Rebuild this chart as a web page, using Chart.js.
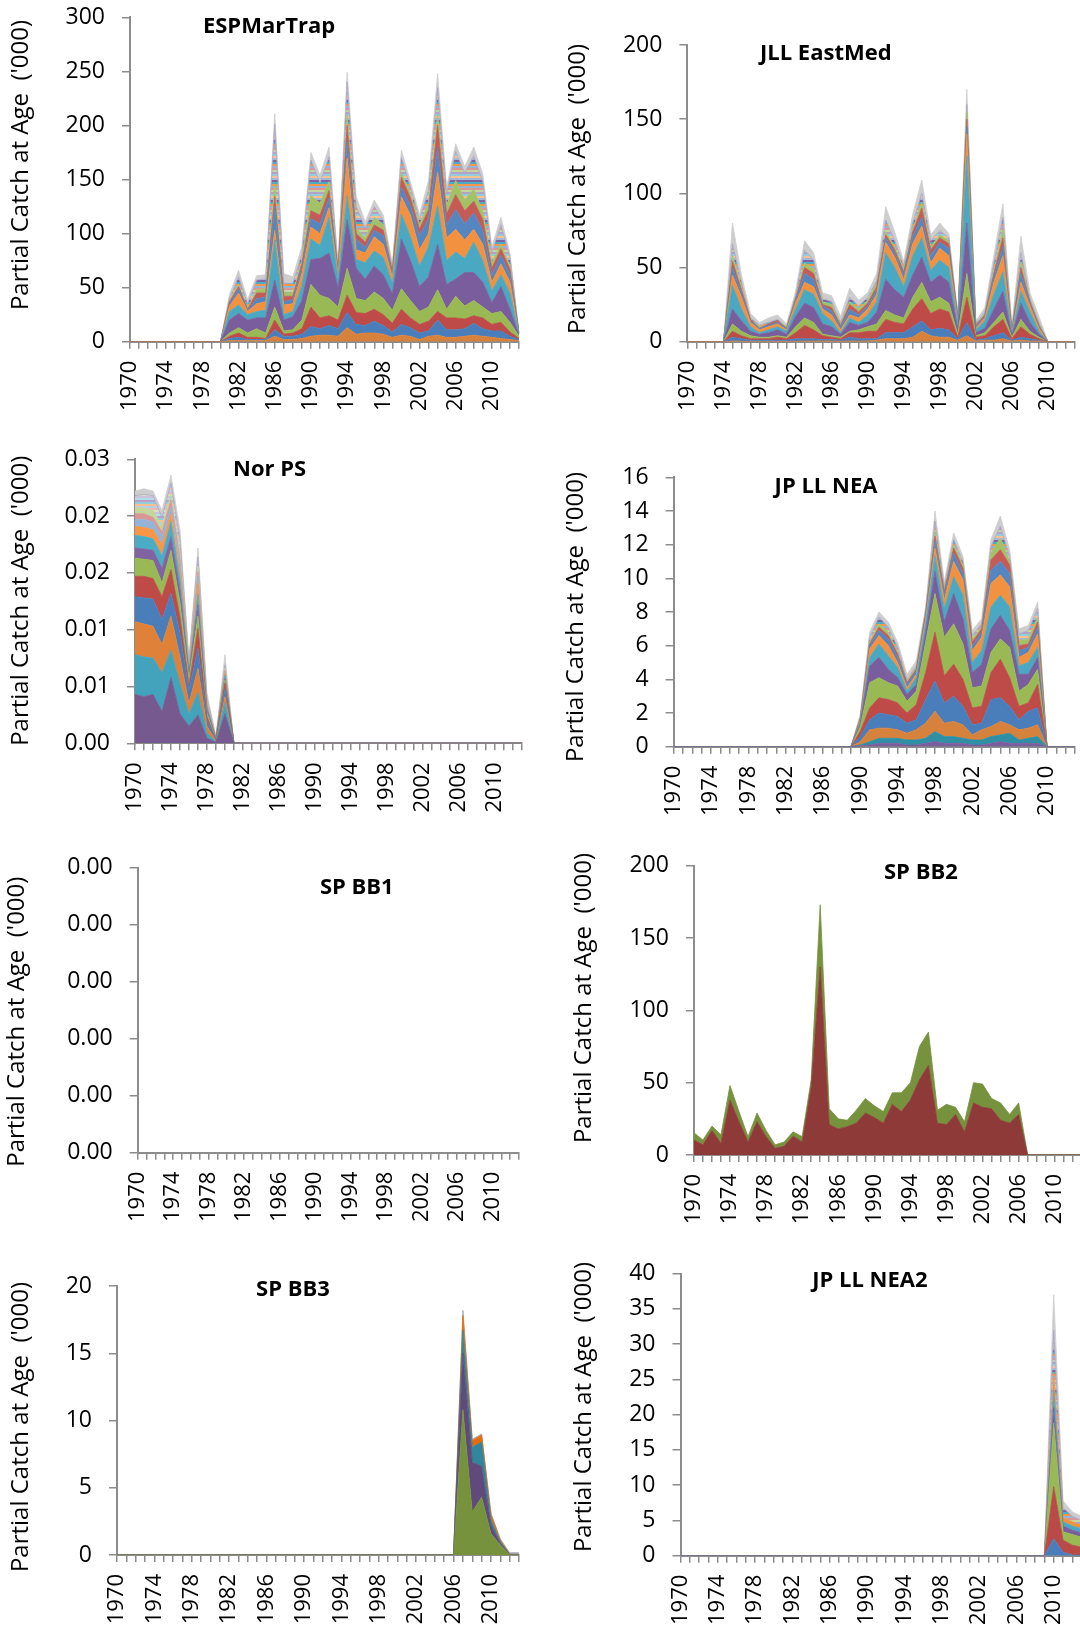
<!DOCTYPE html>
<html>
<head>
<meta charset="utf-8">
<title>Partial catch at age by fleet</title>
<script src="https://cdn.jsdelivr.net/npm/chart.js@4.4.1/dist/chart.umd.min.js"></script>
<style>
  html, body { margin: 0; padding: 0; background: #fff; }
  body { width: 1080px; height: 1629px; position: relative; overflow: hidden; }
  canvas { position: absolute; }
</style>
</head>
<body>
<canvas id="espMarTrap"></canvas>
<canvas id="jllEastMed"></canvas>
<canvas id="norPs"></canvas>
<canvas id="jpLlNea"></canvas>
<canvas id="spBb1"></canvas>
<canvas id="spBb2"></canvas>
<canvas id="spBb3"></canvas>
<canvas id="jpLlNea2"></canvas>
<script>
const years = ['1970','1971','1972','1973','1974','1975','1976','1977','1978','1979',
  '1980','1981','1982','1983','1984','1985','1986','1987','1988','1989',
  '1990','1991','1992','1993','1994','1995','1996','1997','1998','1999',
  '2000','2001','2002','2003','2004','2005','2006','2007','2008','2009',
  '2010','2011','2012','2013'];
const shownYears = ['1970','1974','1978','1982','1986','1990','1994','1998','2002','2006','2010'];
const yTitle = "Partial Catch at Age  ('000)";

// the many thin older-age bands are drawn as one striped band
function stripes(cols) {
  const c = document.createElement('canvas');
  c.width = 4;
  c.height = cols.length * 2;
  const g = c.getContext('2d');
  cols.forEach((col, i) => { g.fillStyle = col; g.fillRect(0, i * 2, 4, 2); });
  return g.createPattern(c, 'repeat');
}
const olderAges = stripes(['#8064A2','#4BACC6','#F79646','#95B3D7','#D99694','#C3D69B','#B3A2C7','#93CDDD','#FAC090','#A5B8D8']);
const olderAgesPale = stripes(['#B3A2C7','#93CDDD','#FAC090','#B9CDE5','#E6B9B8','#D7E4BD','#CCC1DA','#B7DEE8']);

// each row: year, then the top of every stacked age band (cumulative), last band is the grey shadow
// ESPMarTrap bands: orange, blue, red, green, purple, teal, orange, blue, red, green, older ages, shadow
const espRows = [
  [1980, 0,0,0,0,0,0,0,0,0,0,0,0],
  [1981, 1,3,5,8,20,28,33,35,37,38,40,44],
  [1982, 1,4,8,13,26,34,45,49,51,53,60,66],
  [1983, 1,2,4,8,20,25,28,29,30,31,35,39],
  [1984, 1,2,4,12,22,28,35,40,45,48,57,61],
  [1985, 1,2,3,8,22,29,37,41,45,49,58,62],
  [1986, 5,11,20,32,57,94,103,125,134,146,201,211],
  [1987, 2,5,7,10,20,25,34,37,42,45,54,63],
  [1988, 2,5,8,11,23,28,35,39,42,45,54,60],
  [1989, 3,7,12,20,38,52,63,68,72,75,81,88],
  [1990, 5,14,32,53,76,95,106,114,121,135,168,175],
  [1991, 6,12,22,43,77,89,100,109,117,128,147,154],
  [1992, 6,15,24,40,82,115,124,133,140,148,171,180],
  [1993, 5,12,20,32,50,58,63,65,66,67,68,72],
  [1994, 13,27,43,68,113,135,170,185,200,210,240,249],
  [1995, 7,16,27,40,68,76,85,95,100,105,125,134],
  [1996, 8,15,26,38,58,73,82,87,92,96,105,111],
  [1997, 8,19,30,46,70,84,97,103,108,115,125,131],
  [1998, 7,15,25,40,62,78,90,98,103,108,112,117],
  [1999, 4,9,17,29,44,54,60,63,65,66,68,72],
  [2000, 6,16,30,49,95,118,134,143,152,156,170,177],
  [2001, 5,13,22,38,75,97,117,126,133,137,143,148],
  [2002, 2,8,16,28,51,70,85,98,104,108,113,118],
  [2003, 5,10,19,32,60,88,100,114,122,128,140,149],
  [2004, 6,20,28,48,90,126,157,180,200,210,235,248],
  [2005, 4,11,22,30,53,75,96,108,118,126,137,143],
  [2006, 4,11,22,42,58,83,104,122,136,149,176,183],
  [2007, 5,12,21,33,64,77,94,109,121,131,156,162],
  [2008, 6,17,24,38,64,92,104,119,130,141,172,180],
  [2009, 5,12,22,32,55,75,90,103,113,120,148,155],
  [2010, 4,10,16,26,36,47,55,62,68,73,83,88],
  [2011, 3,10,18,28,51,62,72,80,86,90,108,115],
  [2012, 2,5,9,18,30,45,55,62,67,70,78,82],
  [2013, 1,2,3,5,6,7,7,8,8,8,8,9]
];
const espColors = ['#D7823C','#4A7EBB','#BE4B48','#98B954','#7A5D9C','#4AA8C2','#F2913F','#5586C0','#C55A57','#A3C266',olderAges,'#CDCDCD'];

// JLL EastMed, same band order as ESPMarTrap
const jllRows = [
  [1974, 0,0,0,0,0,0,0,0,0,0,0,0],
  [1975, 0.5,3,7,12,22,38,45,50,54,58,66,80],
  [1976, 0.3,2,4,7,14,22,30,33,35,37,40,45],
  [1977, 0.2,1,2,4,7,10,13,14,15,15,16,19],
  [1978, 0.2,1,2,3,5,6,8,9,9,10,11,13],
  [1979, 0.2,1,2,3,6,8,10,11,12,12,13,16],
  [1980, 0.2,1,3,4,8,10,12,13,14,14,15,18],
  [1981, 0.2,1,2,3,5,7,8,9,9,10,10,12],
  [1982, 0.3,2,6,10,17,22,26,28,29,30,31,34],
  [1983, 0.5,2,11,16,26,35,40,46,50,53,62,68],
  [1984, 0.5,2,8,13,23,32,37,42,46,49,55,60],
  [1985, 0.5,1.5,4,5,12,19,22,24,25,27,29,33],
  [1986, 0.5,1.5,3,4,10,14,18,21,23,25,27,31],
  [1987, 0.3,1,2,3,5,6,8,10,11,12,13,17],
  [1988, 0.5,3,6,7,13,16,18,22,25,27,30,36],
  [1989, 0.5,2,6,8,11,13,16,18,20,22,24,28],
  [1990, 0.5,2,7,10,13,18,22,24,26,28,30,33],
  [1991, 1,2,7,12,20,27,32,35,37,39,41,46],
  [1992, 2,6,15,21,42,60,67,70,72,74,82,91],
  [1993, 2,6,13,18,35,50,57,60,62,64,68,74],
  [1994, 2,6,12,16,30,37,42,45,47,49,51,54],
  [1995, 3,10,22,30,45,58,66,71,74,76,80,86],
  [1996, 7,14,29,40,57,70,78,84,90,94,100,109],
  [1997, 4,8,19,27,40,48,53,58,62,64,68,72],
  [1998, 3,9,22,30,45,55,63,67,70,72,75,80],
  [1999, 3,8,20,26,40,50,58,63,66,68,70,73],
  [2000, 1,2,3,5,8,12,14,15,16,16,17,18],
  [2001, 4,13,30,46,80,125,140,145,150,155,160,170],
  [2002, 0.5,1,3,4,6,8,9,10,11,11,12,14],
  [2003, 1,2,4,6,9,14,16,17,18,19,20,23],
  [2004, 1,4,10,13,22,32,40,44,46,48,53,58],
  [2005, 2,6,15,20,34,47,58,64,70,76,84,93],
  [2006, 0.5,1,2,3,4,5,6,7,7,8,9,11],
  [2007, 1,3,10,15,26,34,40,46,50,54,60,71],
  [2008, 0.5,2,5,7,13,20,24,26,27,28,29,33],
  [2009, 0.5,1,2,3,5,7,9,10,11,12,13,17],
  [2010, 0,0,0,0,0,0,0,0,0,0,0,0]
];

// Nor PS bands: purple, teal, orange, blue, red, green, purple, teal, orange, light blue, pink, light green, older ages, shadow
const norRows = [
  [1970, 0.0043,0.0078,0.0107,0.0129,0.0147,0.0163,0.0172,0.0183,0.0191,0.0197,0.0202,0.0208,0.0218,0.0222],
  [1971, 0.0041,0.0076,0.0105,0.0128,0.0147,0.0162,0.0171,0.0182,0.0190,0.0197,0.0202,0.0207,0.0219,0.0224],
  [1972, 0.0043,0.0075,0.0103,0.0127,0.0145,0.0161,0.0170,0.0180,0.0188,0.0195,0.0199,0.0205,0.0218,0.0222],
  [1973, 0.0028,0.0062,0.0087,0.0109,0.0129,0.0141,0.0154,0.0165,0.0175,0.0182,0.0186,0.0191,0.0199,0.0205],
  [1974, 0.0058,0.0082,0.0112,0.0132,0.0153,0.0170,0.0182,0.0195,0.0202,0.0208,0.0214,0.0219,0.0229,0.0236],
  [1975, 0.0026,0.0053,0.0076,0.0097,0.0111,0.0124,0.0135,0.0144,0.0151,0.0158,0.0163,0.0167,0.0179,0.0188],
  [1976, 0.0015,0.0026,0.0035,0.0047,0.0051,0.0057,0.0060,0.0063,0.0065,0.0067,0.0068,0.0069,0.0071,0.0075],
  [1977, 0.0025,0.0045,0.0066,0.0084,0.0101,0.0112,0.0122,0.0131,0.0141,0.0147,0.0151,0.0156,0.0164,0.0172],
  [1978, 0.00045,0.0009,0.0015,0.00205,0.00235,0.00265,0.00295,0.0032,0.0033,0.00345,0.0036,0.0037,0.0040,0.0044],
  [1979, 0.0001,0.00015,0.0002,0.00025,0.0003,0.00035,0.00038,0.0004,0.00042,0.00044,0.00046,0.00048,0.00052,0.0006],
  [1980, 0.0026,0.0035,0.0041,0.0048,0.0053,0.0056,0.0057,0.0060,0.0062,0.0063,0.00645,0.0066,0.0069,0.0078],
  [1981, 0,0,0,0,0,0,0,0,0,0,0,0,0,0]
];
const norColors = ['#75598F','#43A3BC','#DF8139','#4A7EBB','#BE4B48','#98B954','#8064A2','#4BACC6','#F79646','#95B3D7','#D99694','#C3D69B',olderAgesPale,'#CDCDCD'];
const norTicks = ['0.00','0.01','0.01','0.02','0.02','0.03'];

// JP LL NEA bands: purple, teal, orange, blue, red, green, purple, teal, orange, blue, red, green, older ages, shadow
const neaRows = [
  [1989, 0,0,0,0,0,0,0,0,0,0,0,0,0,0],
  [1990, 0.05,0.1,0.3,0.6,0.9,1.2,1.35,1.45,1.55,1.6,1.65,1.7,1.8,1.95],
  [1991, 0.1,0.3,1.0,1.6,2.3,3.8,4.8,5.3,5.8,6.0,6.1,6.2,6.5,6.8],
  [1992, 0.2,0.5,1.1,2.0,2.9,4.1,5.3,6.1,6.6,6.9,7.1,7.3,7.7,8.0],
  [1993, 0.2,0.5,1.1,1.9,2.8,3.8,4.6,5.4,6.0,6.4,6.6,6.8,7.1,7.4],
  [1994, 0.2,0.5,1.0,1.8,2.6,3.6,4.1,4.7,5.0,5.3,5.5,5.6,5.9,6.2],
  [1995, 0.1,0.4,0.8,1.4,2.0,2.7,3.1,3.3,3.5,3.7,3.8,3.9,4.0,4.3],
  [1996, 0.1,0.4,1.0,1.6,2.5,3.3,3.7,4.1,4.3,4.5,4.6,4.7,4.8,5.1],
  [1997, 0.2,0.5,1.4,2.8,4.4,6.2,6.8,7.3,7.6,7.8,7.9,8.0,8.1,8.3],
  [1998, 0.3,0.9,2.1,3.9,6.8,9.1,10.4,11.3,11.8,12.2,12.5,12.8,13.4,14.0],
  [1999, 0.2,0.6,1.4,2.6,4.2,6.5,7.4,8.2,8.7,9.0,9.2,9.3,9.5,9.8],
  [2000, 0.2,0.6,1.5,3.0,4.9,7.3,9.1,10.1,11.0,11.5,11.8,12.0,12.3,12.7],
  [2001, 0.2,0.5,1.3,2.4,4.0,6.1,7.6,9.0,9.9,10.3,10.6,10.8,11.0,11.3],
  [2002, 0.1,0.4,0.7,1.3,2.3,3.5,4.4,5.0,5.7,6.0,6.2,6.4,6.6,6.9],
  [2003, 0.1,0.4,1.0,1.4,2.4,3.6,4.9,5.7,6.5,6.8,7.0,7.1,7.3,7.6],
  [2004, 0.2,0.6,1.2,2.8,4.4,5.6,7.0,8.3,9.7,10.5,11.1,11.5,11.9,12.3],
  [2005, 0.3,0.7,1.5,2.9,5.2,6.4,7.8,9.0,10.2,11.0,11.7,12.4,13.1,13.7],
  [2006, 0.2,0.8,1.3,2.4,4.1,5.9,6.9,8.3,9.5,10.3,10.8,11.0,11.3,11.7],
  [2007, 0.2,0.4,1.0,1.6,2.4,3.3,4.3,4.8,5.3,5.7,6.0,6.3,6.7,7.0],
  [2008, 0.2,0.5,1.1,2.1,2.6,3.7,4.3,5.0,5.6,5.9,6.1,6.4,6.9,7.2],
  [2009, 0.2,0.6,1.3,2.3,3.7,4.6,5.3,5.9,6.7,7.1,7.4,7.7,8.2,8.6],
  [2010, 0,0,0,0,0,0,0,0,0,0,0,0,0,0]
];
const neaColors = ['#7A5D9C','#2E8FA5','#D7823C','#4A7EBB','#BE4B48','#98B954','#7A5D9C','#4AA8C2','#F2913F','#5586C0','#C55A57','#A3C266',olderAges,'#CDCDCD'];

// SP BB1 has no catch, its axis only shows 0.00
const bb1Ticks = ['0.00','0.00','0.00','0.00','0.00','0.00'];

// SP BB2 bands: dark red, olive
const bb2Rows = [
  [1970, 10.4,15.4], [1971, 7,10.4], [1972, 17,20], [1973, 8,14], [1974, 38,48],
  [1975, 23,30], [1976, 9,12.7], [1977, 23,29], [1978, 12.7,17], [1979, 4.6,7],
  [1980, 6,9], [1981, 13,16], [1982, 9,12.7], [1983, 47,52], [1984, 130,173],
  [1985, 21,32], [1986, 18,25], [1987, 19.6,24], [1988, 22,31], [1989, 29,39],
  [1990, 26,34], [1991, 22,30], [1992, 35,43], [1993, 30,43], [1994, 38,50],
  [1995, 52,75], [1996, 62,85], [1997, 22,31], [1998, 21,35], [1999, 28,33],
  [2000, 16,23], [2001, 36,50], [2002, 33,49], [2003, 32,39], [2004, 24,36],
  [2005, 22,28], [2006, 28,36], [2007, 0,0]
];
const bb2Colors = ['#8E3A39','#76923C'];

// SP BB3 bands: olive, purple, teal, orange, grey
const bb3Rows = [
  [2006, 0,0,0,0,0],
  [2007, 10.8,15.0,16.7,17.8,18.2],
  [2008, 3.2,6.9,8.0,8.5,8.6],
  [2009, 4.3,6.6,8.4,8.9,9.0],
  [2010, 1.6,2.2,2.6,3.0,3.1],
  [2011, 0.75,0.87,1.0,1.1,1.2],
  [2012, 0.02,0.03,0.04,0.05,0.17],
  [2013, 0,0,0,0,0.17]
];
const bb3Colors = ['#76923C','#5F4A7B','#31859C','#E46C0A','#A4A4AC'];

// JP LL NEA2 bands: blue, red, green, purple, teal, orange, older ages, shadow
const nea2Rows = [
  [2009, 0,0,0,0,0,0,0,0],
  [2010, 2.4,9.8,18.8,21,23.5,26,32,37],
  [2011, 0.5,2.2,3.4,4.2,4.8,5.4,6.8,7.8],
  [2012, 0.1,1.5,3.0,3.6,4.2,4.8,5.6,6.2],
  [2013, 0.05,1.2,2.6,3.2,3.8,4.3,5.0,5.6]
];
const nea2Colors = ['#4A7EBB','#B94A48','#98B954','#7A5D9C','#4AA8C2','#F2913F',olderAges,'#CDCDCD'];

const font = '"Open Sans", sans-serif';
const axisGray = '#8c8c8c';

// cell = canvas [left, top, width, height]; box = plot area [left, top, right, zero line]
const panels = [
  { id: 'espMarTrap', cell: [0, 0, 540, 420], box: [130, 17.3, 519, 341.7], max: 300, step: 50,
    rows: espRows, colors: espColors, title: 'ESPMarTrap', titleAt: [269, 26.7], yTitleAt: [20.7, 165] },
  { id: 'jllEastMed', cell: [540, 0, 560, 420], box: [687.4, 45, 1075, 341.7], max: 200, step: 50,
    rows: jllRows, colors: espColors, title: 'JLL EastMed', titleAt: [825.8, 54], yTitleAt: [577.9, 189] },
  { id: 'norPs', cell: [0, 420, 540, 400], box: [135, 459.3, 521.7, 743.3], max: 0.025, step: 0.005,
    rows: norRows, colors: norColors, tickLabels: norTicks, title: 'Nor PS', titleAt: [269.6, 470], yTitleAt: [20.7, 600.8] },
  { id: 'jpLlNea', cell: [540, 420, 560, 400], box: [673.6, 477.3, 1075, 746.7], max: 16, step: 2,
    rows: neaRows, colors: neaColors, title: 'JP LL NEA', titleAt: [826, 486.7], yTitleAt: [576.2, 617] },
  { id: 'spBb1', cell: [0, 820, 540, 410], box: [137.7, 867.7, 519, 1152.7], max: 5, step: 1,
    rows: [], colors: [], tickLabels: bb1Ticks, title: 'SP BB1', titleAt: [356.8, 888], yTitleAt: [17.2, 1021.7] },
  { id: 'spBb2', cell: [540, 820, 560, 410], box: [693.9, 865.7, 1081.8, 1155], max: 200, step: 50,
    rows: bb2Rows, colors: bb2Colors, title: 'SP BB2', titleAt: [920.9, 872.7], yTitleAt: [584, 998] },
  { id: 'spBb3', cell: [0, 1230, 540, 399], box: [117, 1286, 519, 1555], max: 20, step: 5,
    rows: bb3Rows, colors: bb3Colors, title: 'SP BB3', titleAt: [293, 1290], yTitleAt: [20.7, 1427] },
  { id: 'jpLlNea2', cell: [540, 1230, 560, 399], box: [680.5, 1273.7, 1081.7, 1555.7], max: 40, step: 5,
    rows: nea2Rows, colors: nea2Colors, title: 'JP LL NEA2', titleAt: [869.9, 1281], yTitleAt: [584, 1407] }
];

function bandsFrom(rows, colors) {
  return colors.map((color, j) => ({
    data: years.map(y => {
      const row = rows.find(r => r[0] === Number(y));
      return row ? row[j + 1] : 0;
    }),
    backgroundColor: color,
    borderColor: typeof color === 'string' ? color : '#A9A3C9',
    borderWidth: 0.8,
    fill: j === 0 ? 'origin' : '-1',
    pointRadius: 0,
    tension: 0
  }));
}

// panel title and rotated axis title, placed like the original sheet
const panelText = {
  id: 'panelText',
  afterDraw(chart, args, opts) {
    const ctx = chart.ctx;
    ctx.save();
    ctx.fillStyle = '#000';
    ctx.textAlign = 'center';
    ctx.textBaseline = 'middle';
    ctx.font = 'bold 22px ' + font;
    ctx.fillText(opts.title, opts.titleX, opts.titleY);
    ctx.translate(opts.yTitleX, opts.yTitleY);
    ctx.rotate(-Math.PI / 2);
    ctx.font = '24px ' + font;
    ctx.fillText(yTitle, 0, 0);
    ctx.restore();
  }
};

panels.forEach(p => {
  const [cl, ct, cw, ch] = p.cell;
  const [bl, bt, br, bb] = p.box;
  const canvas = document.getElementById(p.id);
  canvas.width = cw;
  canvas.height = ch;
  canvas.style.left = cl + 'px';
  canvas.style.top = ct + 'px';

  new Chart(canvas, {
    type: 'line',
    data: { labels: years, datasets: bandsFrom(p.rows, p.colors) },
    plugins: [panelText],
    options: {
      responsive: false,
      animation: false,
      events: [],
      layout: { padding: { left: 0, top: bt - ct, right: cl + cw - br, bottom: 0 } },
      plugins: {
        legend: { display: false },
        tooltip: { enabled: false },
        panelText: {
          title: p.title,
          titleX: p.titleAt[0] - cl, titleY: p.titleAt[1] - ct,
          yTitleX: p.yTitleAt[0] - cl, yTitleY: p.yTitleAt[1] - ct
        }
      },
      scales: {
        x: {
          type: 'category',
          offset: false,
          afterFit: s => { s.height = ct + ch - bb; s.paddingLeft = 0; s.paddingRight = 0; },
          grid: { drawOnChartArea: false, drawTicks: true, tickLength: 7, color: axisGray, lineWidth: 1.5 },
          border: { display: true, color: axisGray, width: 2 },
          ticks: {
            autoSkip: false, minRotation: 90, maxRotation: 90, padding: 12,
            color: '#000', font: { family: font, size: 22 },
            callback: (v, i) => shownYears.includes(years[i]) ? years[i] : ''
          }
        },
        y: {
          min: 0,
          max: p.max,
          afterFit: s => { s.width = bl - cl; s.paddingTop = 0; s.paddingBottom = 0; },
          grid: { drawOnChartArea: false, drawTicks: true, tickLength: 8, color: axisGray, lineWidth: 1.5 },
          border: { display: true, color: axisGray, width: 2 },
          ticks: {
            stepSize: p.step, padding: 17, color: '#000', font: { family: font, size: 23 },
            callback: (v, i) => p.tickLabels ? p.tickLabels[i] : v
          }
        }
      }
    }
  });
});
</script>
</body>
</html>
